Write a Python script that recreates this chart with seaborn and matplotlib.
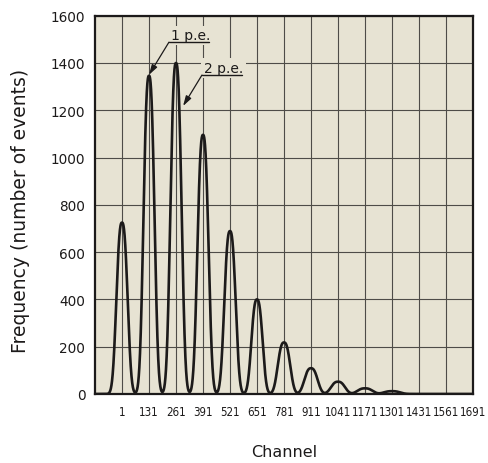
import numpy as np
import pandas as pd
import matplotlib
matplotlib.use("Agg")
import matplotlib.pyplot as plt
import seaborn as sns

# ---- data ----
peak_channels = [1, 131, 261, 391, 521, 651, 781, 911, 1041, 1171, 1301]
peak_heights = [725, 1346, 1400, 1096, 689, 400, 218, 109, 52, 24, 12]
peak_fwhm = [58, 57, 58, 58, 59, 58, 64, 68, 72, 78, 84]  # full width at half max, channels
tick_channels = [1, 131, 261, 391, 521, 651, 781, 911, 1041, 1171, 1301, 1431, 1561, 1691]
y_ticks = [0, 200, 400, 600, 800, 1000, 1200, 1400, 1600]

# smooth spectrum drawn through the read peak positions / heights / widths
shape_power = 2.6
channels = np.linspace(-129, 1691, 4000)
freq = np.zeros_like(channels)
for c, h, fw in zip(peak_channels, peak_heights, peak_fwhm):
    a = (fw / 2) / np.log(2) ** (1 / shape_power)
    freq += h * np.exp(-(np.abs(channels - c) / a) ** shape_power)
df = pd.DataFrame({"Channel": channels, "Frequency": freq})

sns.set_theme(style="white")
plt.rcParams["font.family"] = ["DejaVu Sans"]

bg = "#e7e3d3"
ink = "#1c1a1a"
fig = plt.figure(figsize=(4.89, 4.64), dpi=100)
ax = fig.add_axes([95 / 489, (464 - 395) / 464, (473 - 95) / 489, (395 - 16.7) / 464])
ax.set_facecolor(bg)

sns.lineplot(data=df, x="Channel", y="Frequency", ax=ax, color=ink, linewidth=1.9, zorder=3)

ax.set_xlim(-129, 1691)
ax.set_ylim(0, 1600)
ax.set_xticks(tick_channels)
ax.set_xticklabels([str(t) for t in tick_channels],
                   fontdict={"family": "DejaVu Sans", "stretch": "condensed", "size": 8.3})
ax.set_yticks(y_ticks)
ax.set_yticklabels([str(t) for t in y_ticks], fontsize=9.8)
ax.tick_params(axis="x", length=0, pad=8, colors=ink)
ax.tick_params(axis="y", length=0, pad=7, colors=ink)
ax.grid(True, color="#4e4c48", linewidth=0.8, zorder=1)
ax.set_axisbelow(True)
for s in ax.spines.values():
    s.set_color(ink)
    s.set_linewidth(1.6)

ax.set_xlabel("Channel", fontsize=11.5, labelpad=19, color=ink)
ax.set_ylabel("Frequency (number of events)", fontsize=13.5, color=ink)
ax.yaxis.set_label_coords(-0.172, 0.486)

# annotations: (label, underline start, underline end, underline y, arrow target)
for label, ul_x0, ul_x1, ul_y, target in [
    ("1 p.e.", 227, 420, 1488, (131, 1350)),
    ("2 p.e.", 386, 579, 1349, (295, 1218)),
]:
    ax.text(ul_x0 + 8, ul_y + 12, label, ha="left", va="baseline", fontsize=10,
            color=ink, zorder=4,
            bbox=dict(boxstyle="square,pad=0.2", fc=bg, ec="none"))
    ax.plot([ul_x0, ul_x1], [ul_y, ul_y], color=ink, linewidth=1.0, zorder=4)
    ax.annotate("", xy=target, xytext=(ul_x0, ul_y), zorder=4,
                arrowprops=dict(arrowstyle="-|>,head_length=0.5,head_width=0.15",
                                color=ink, linewidth=0.9, shrinkA=0, shrinkB=0))

fig.savefig("out.png", dpi=100, facecolor="white")
